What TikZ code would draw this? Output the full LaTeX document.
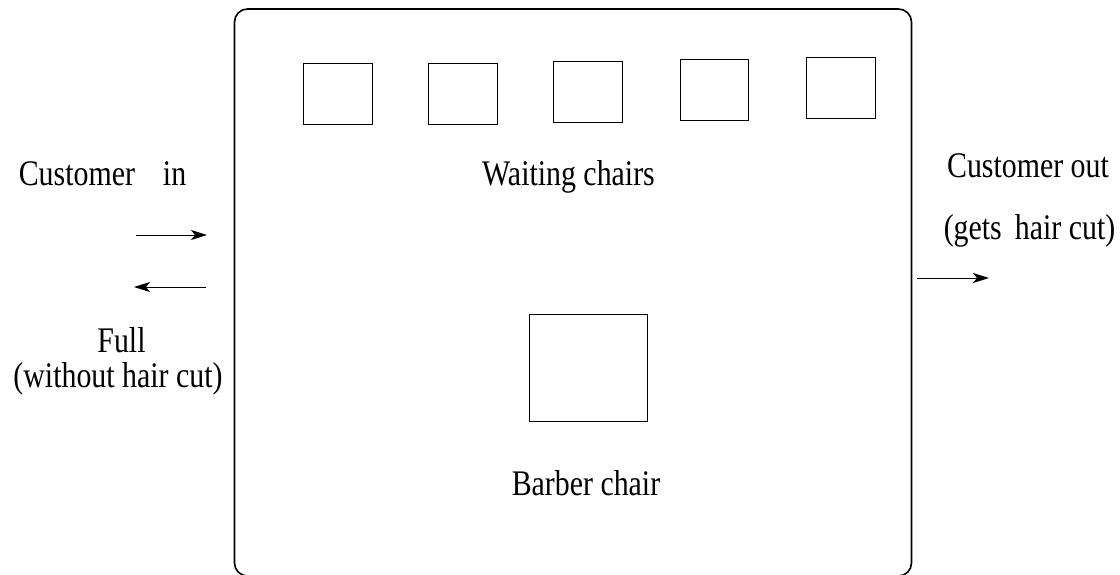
\documentclass[tikz,border=0pt]{standalone}
\usepackage{fontspec}
\setmainfont{Liberation Serif}[FakeStretch=0.83]
\usetikzlibrary{arrows.meta}
\begin{document}
\begin{tikzpicture}[x=0.5pt,y=-0.5pt,
  room/.style={draw, line width=0.8pt, rounded corners=6.5pt},
  chair/.style={draw, line width=0.5pt, inner sep=0pt, outer sep=0pt},
  lbl/.style={anchor=base, inner sep=0pt, font=\fontsize{18pt}{21pt}\selectfont},
  arr/.style={line width=0.5pt, -{Stealth[length=8pt,width=5pt,inset=2pt]}}]
\useasboundingbox (0,0) rectangle (1120,574);
% room
\node[room, inner sep=0pt, minimum width=338.5pt, minimum height=283.5pt] (room) at (573,292.5) {};
% waiting chairs
\node[chair, minimum width=34.6pt, minimum height=30.5pt] (c1) at (338.3,93.8) {};
\node[chair, minimum width=34.6pt, minimum height=30.5pt] (c2) at (463.3,93.8) {};
\node[chair, minimum width=34.4pt, minimum height=30.5pt] (c3) at (588.0,91.8) {};
\node[chair, minimum width=34.4pt, minimum height=30.4pt] (c4) at (714.4,89.6) {};
\node[chair, minimum width=34.6pt, minimum height=30.4pt] (c5) at (840.9,87.6) {};
% barber chair
\node[chair, minimum width=59pt, minimum height=53.5pt] (bc) at (588,367.5) {};
% labels
\node[lbl] (wait) at (568.5,185) {Waiting chairs};
\node[lbl] (barb) at (586,495) {Barber chair};
\node[lbl] (cin) at (102.5,185) {Customer\hspace{14pt}in};
\node[lbl] (full) at (121.5,352) {Full};
\node[lbl] (wout) at (118,387) {(without hair cut)};
\node[lbl] (cout) at (1028,177) {Customer out};
\node[lbl] (gets) at (1029.5,239) {(gets\hspace{6.5pt}hair cut)};
% arrows
\coordinate (inA) at (136,235);
\coordinate (inB) at (207,235);
\coordinate (fullA) at (206,287);
\coordinate (fullB) at (134,287);
\coordinate (outA) at (917,278);
\coordinate (outB) at (989,278);
\draw[arr] (inA) -- (inB);
\draw[arr] (fullA) -- (fullB);
\draw[arr] (outA) -- (outB);
\end{tikzpicture}
\end{document}
